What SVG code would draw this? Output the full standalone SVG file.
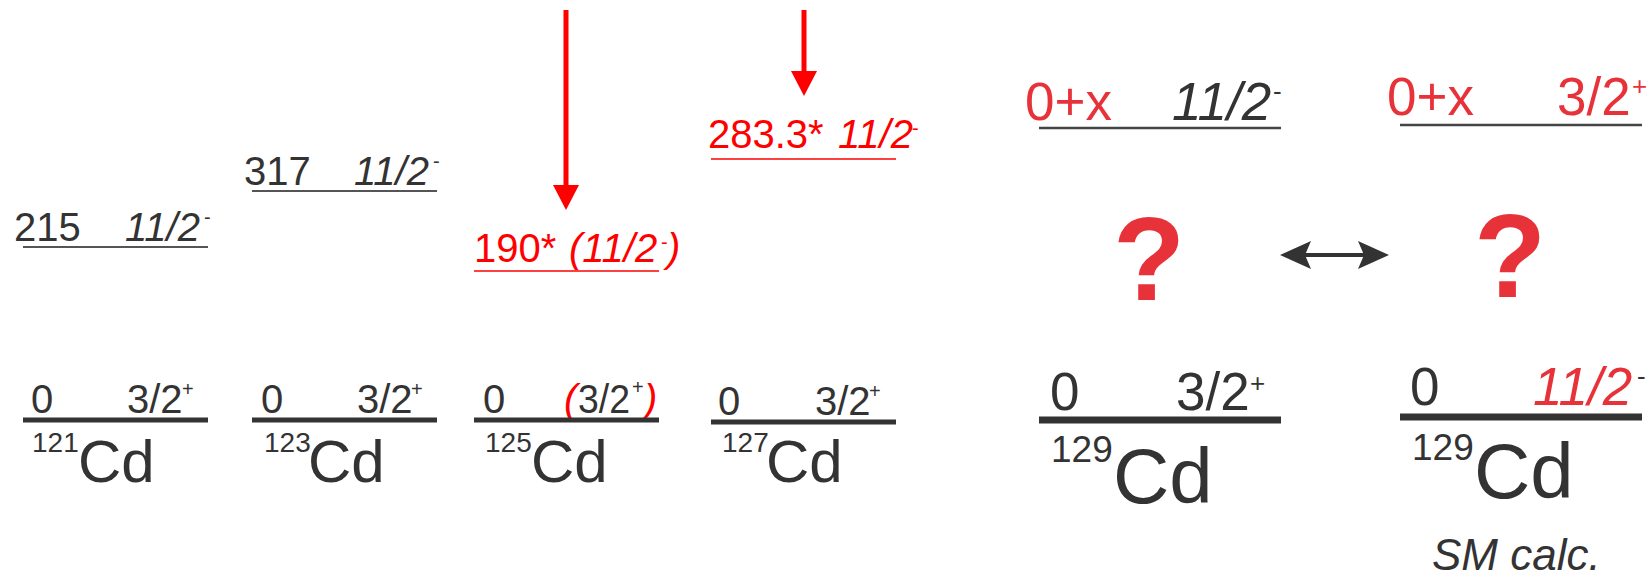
<svg xmlns="http://www.w3.org/2000/svg" width="1650" height="576" viewBox="0 0 1650 576">
<style>
text{font-family:"Liberation Sans",Arial,sans-serif;fill:#333}
.s40{font-size:40px}
.s53{font-size:53px}
.it{font-style:italic}
.r{fill:#ff0000}
.r2{fill:#e8323a}
.sup{font-size:20px}
.sup2{font-size:26px}
.lvl{stroke:#555;stroke-width:2}
.lvlr{stroke:#ff0000;stroke-width:1.5}
.gs{stroke:#333;stroke-width:5}
.gsb{stroke:#333;stroke-width:7}
.q{font-size:118px;font-weight:bold;fill:#e8323a;text-anchor:middle}
</style>
<g id="n121">
<text class="s40" x="14" y="241">215</text>
<text class="s40 it" x="125" y="241">11/2</text>
<text class="sup" x="204" y="224">-</text>
<line class="lvl" x1="23" y1="247" x2="208" y2="247"/>
<text class="s40" x="31" y="413">0</text>
<text class="s40" x="127" y="413">3/2</text>
<text class="sup" x="182" y="396">+</text>
<line class="gs" x1="23" y1="420" x2="208" y2="420"/>
<text style="font-size:28px" x="32" y="452">121</text>
<text style="font-size:60px" x="78" y="482">Cd</text>
</g>
<g id="n123">
<text class="s40" x="244" y="185">317</text>
<text class="s40 it" x="354" y="185">11/2</text>
<text class="sup" x="433" y="168">-</text>
<line class="lvl" x1="252" y1="191" x2="437" y2="191"/>
<text class="s40" x="261" y="413">0</text>
<text class="s40" x="357" y="413">3/2</text>
<text class="sup" x="411" y="396">+</text>
<line class="gs" x1="252" y1="420" x2="437" y2="420"/>
<text style="font-size:28px" x="264" y="452">123</text>
<text style="font-size:60px" x="308" y="482">Cd</text>
</g>
<g id="n125">
<text class="s40 r" x="474" y="262">190*</text>
<text class="s40 it r" x="569" y="262">(11/2</text>
<text class="sup r" x="661" y="249">-</text>
<text class="s40 it r" x="667" y="262">)</text>
<line class="lvlr" x1="474" y1="271" x2="659" y2="271"/>
<text class="s40" x="483" y="413">0</text>
<text class="s40 it r" x="564" y="413">(</text>
<text class="s40" x="578" y="413" textLength="52" lengthAdjust="spacingAndGlyphs">3/2</text>
<text class="sup" x="632" y="394">+</text>
<text class="s40 it r" x="644" y="413">)</text>
<line class="gs" x1="474" y1="420" x2="659" y2="420"/>
<text style="font-size:28px" x="485" y="452">125</text>
<text style="font-size:60px" x="531" y="482">Cd</text>
</g>
<g id="n127">
<text class="s40 r" x="708" y="148">283.3*</text>
<text class="s40 it r" x="838" y="148">11/2</text>
<text class="sup r" x="912" y="135">-</text>
<line class="lvlr" x1="711" y1="159" x2="896" y2="159"/>
<text class="s40" x="718" y="415">0</text>
<text class="s40" x="815" y="415">3/2</text>
<text class="sup" x="869" y="398">+</text>
<line class="gs" x1="711" y1="422" x2="896" y2="422"/>
<text style="font-size:28px" x="722" y="452">127</text>
<text style="font-size:60px" x="766" y="482">Cd</text>
</g>
<g id="n129a">
<text class="s53 r2" x="1025" y="120">0+x</text>
<text class="s53 it" x="1172" y="120">11/2</text>
<text class="sup2" x="1273" y="100">-</text>
<line class="lvl" x1="1039" y1="128" x2="1281" y2="128" style="stroke:#444;stroke-width:2.5"/>
<text class="q" x="1149" y="300">?</text>
<text class="s53" x="1050" y="410">0</text>
<text class="s53" x="1176" y="410">3/2</text>
<text class="sup2" x="1250" y="392">+</text>
<line class="gsb" x1="1039" y1="420" x2="1281" y2="420"/>
<text style="font-size:37px" x="1051" y="462">129</text>
<text style="font-size:78px" x="1113" y="503">Cd</text>
</g>
<g id="n129b">
<text class="s53 r2" x="1387" y="115">0+x</text>
<text class="s53 r2" x="1557" y="115">3/2</text>
<text class="sup2 r2" x="1632" y="95">+</text>
<line class="lvl" x1="1400" y1="125" x2="1642" y2="125" style="stroke:#444;stroke-width:2.5"/>
<text class="q" x="1510" y="297">?</text>
<text class="s53" x="1410" y="405">0</text>
<text class="s53 it r2" x="1533" y="405">11/2</text>
<text class="sup2" x="1637" y="385">-</text>
<line class="gsb" x1="1400" y1="417" x2="1642" y2="417"/>
<text style="font-size:37px" x="1412" y="460">129</text>
<text style="font-size:78px" x="1474" y="498">Cd</text>
<text class="it" style="font-size:44px" x="1432" y="570">SM calc.</text>
</g>
<g id="connectors">
<line x1="566" y1="10" x2="566" y2="188" stroke="#ff0000" stroke-width="5"/>
<polygon points="553,185 579,185 566,210" fill="#ff0000"/>
<line x1="804" y1="10" x2="804" y2="74" stroke="#ff0000" stroke-width="5"/>
<polygon points="791,71 817,71 804,96" fill="#ff0000"/>
<line x1="1300" y1="255" x2="1370" y2="255" stroke="#333" stroke-width="4"/>
<polygon points="1280,255 1311,241 1305,255 1311,269" fill="#333"/>
<polygon points="1389,255 1358,241 1364,255 1358,269" fill="#333"/>
</g>
</svg>
